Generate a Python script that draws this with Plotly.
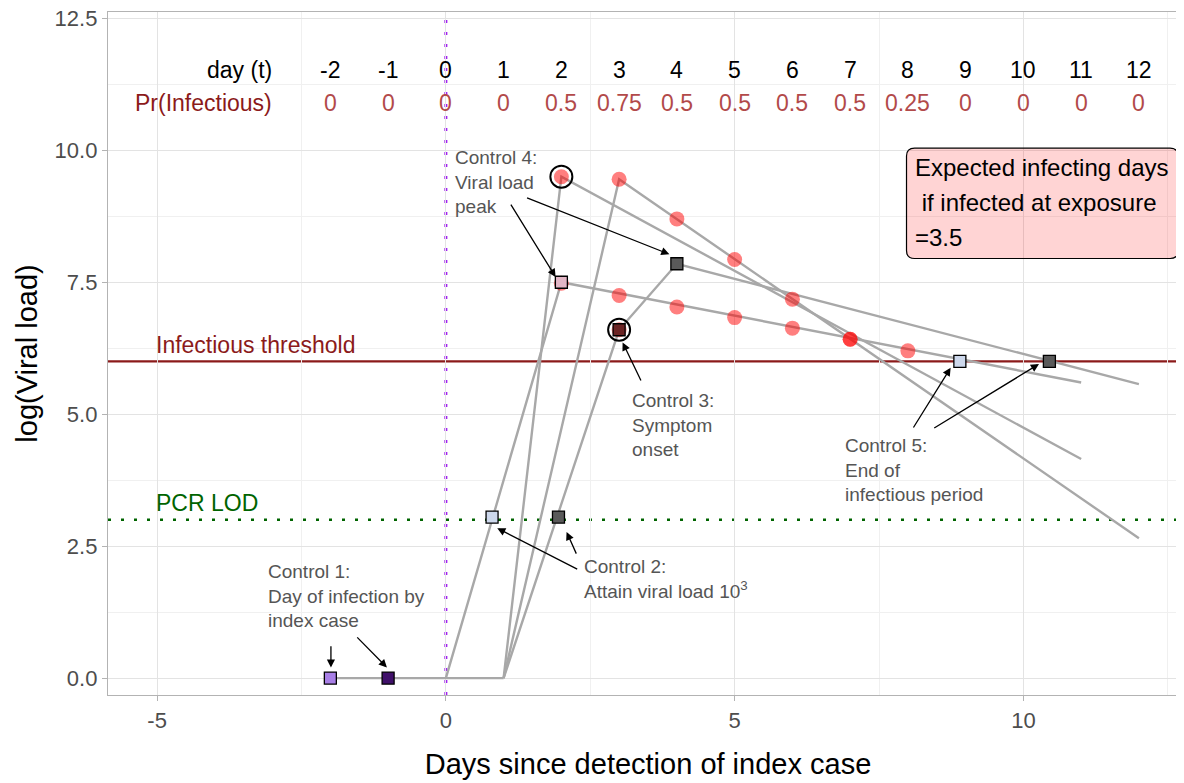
import plotly.graph_objects as go

# Header table above the trajectories
days = list(range(-2, 13))
pr_infectious = ["0", "0", "0", "0", "0.5", "0.75", "0.5", "0.5", "0.5", "0.5", "0.25", "0", "0", "0", "0"]

infectious_threshold = 6.0
pcr_lod = 3.0

# Viral load trajectories (day, log viral load)
baseline_x = [-2, 1]
baseline_y = [0, 0]
traj_a_x = [0, 2, 11]
traj_a_y = [0, 7.5, 5.6]
traj_b_x = [1, 2, 11]
traj_b_y = [0, 9.5, 4.15]
traj_c_x = [1, 3, 12]
traj_c_y = [0, 9.45, 2.65]
traj_d_x = [1, 3, 4, 12]
traj_d_y = [0, 6.6, 7.85, 5.57]

# Infectious days (red dots)
inf_x = [2, 3, 4, 5, 6, 7, 2, 3, 4, 5, 6, 7, 8, 3]
inf_y = [9.5, 9.45, 8.7, 7.93, 7.18, 6.42, 7.48, 7.25, 7.03, 6.83, 6.63, 6.42, 6.2, 6.6]

# Circled points
circ_x = [2, 3]
circ_y = [9.5, 6.6]

# Control points (squares)
ctrl_x = [-2, -1, 0.8, 1.95, 3, 2, 4, 8.9, 10.45]
ctrl_y = [0, 0, 3.05, 3.05, 6.6, 7.5, 7.85, 6.0, 6.0]
ctrl_colors = ["#a87fe6", "#40106a", "#cdd8ec", "#5a5a5a", "#6b2424",
               "#e3b6c6", "#5a5a5a", "#cdd8ec", "#5a5a5a"]

box_lines = ["Expected infecting days", "\u00a0if infected at exposure", "=3.5"]

x_ticks = [-5, 0, 5, 10]
x_ticktext = ["-5", "0", "5", "10"]
y_ticks = [0, 2.5, 5, 7.5, 10, 12.5]
y_ticktext = ["0.0", "2.5", "5.0", "7.5", "10.0", "12.5"]

FONT = "Liberation Sans"
LABEL_GREY = "#555555"

fig = go.Figure()

line_style = dict(color="#a8a8a8", width=2.4)
for xs, ys in [(baseline_x, baseline_y), (traj_a_x, traj_a_y), (traj_b_x, traj_b_y),
               (traj_c_x, traj_c_y), (traj_d_x, traj_d_y)]:
    fig.add_trace(go.Scatter(x=xs, y=ys, mode="lines", line=line_style,
                             hoverinfo="skip", showlegend=False))

fig.add_trace(go.Scatter(
    x=inf_x, y=inf_y, mode="markers",
    marker=dict(size=15, color="rgba(255,0,0,0.5)", line=dict(width=0)),
    showlegend=False,
))
fig.add_trace(go.Scatter(
    x=circ_x, y=circ_y, mode="markers",
    marker=dict(size=22, symbol="circle-open", color="black", line=dict(width=2)),
    showlegend=False,
))
fig.add_trace(go.Scatter(
    x=ctrl_x, y=ctrl_y, mode="markers",
    marker=dict(size=12, symbol="square", color=ctrl_colors,
                line=dict(color="black", width=1.3)),
    showlegend=False,
))

# reference lines
fig.add_shape(type="line", xref="paper", yref="y", x0=0, x1=1,
              y0=infectious_threshold, y1=infectious_threshold,
              line=dict(color="#8b1a1a", width=2.2), layer="below")
fig.add_shape(type="line", xref="paper", yref="y", x0=0, x1=1,
              y0=pcr_lod, y1=pcr_lod,
              line=dict(color="#006400", width=2.5, dash="3px,10px"), layer="below")
fig.add_shape(type="line", xref="x", yref="paper", x0=0, x1=0, y0=0, y1=1,
              line=dict(color="#a020f0", width=3, dash="3px,9px"), layer="below")

# summary box with rounded corners
bx0, bx1, by0, by1 = 7.976, 12.68, 7.95, 10.04
rx, ry = 0.14, 0.15
box_path = (
    f"M {bx0 + rx},{by0} L {bx1 - rx},{by0} Q {bx1},{by0} {bx1},{by0 + ry} "
    f"L {bx1},{by1 - ry} Q {bx1},{by1} {bx1 - rx},{by1} "
    f"L {bx0 + rx},{by1} Q {bx0},{by1} {bx0},{by1 - ry} "
    f"L {bx0},{by0 + ry} Q {bx0},{by0} {bx0 + rx},{by0} Z"
)
fig.add_shape(type="path", path=box_path, xref="x", yref="y",
              fillcolor="rgba(255,0,0,0.17)", line=dict(color="black", width=1.2),
              layer="above")

annotations = []

# header rows
annotations.append(dict(x=-2.97, y=11.52, text="day (t)", xanchor="right",
                        font=dict(size=23, color="black")))
annotations.append(dict(x=-2.97, y=10.89, text="Pr(Infectious)", xanchor="right",
                        font=dict(size=23, color="#8b1a1a")))
for d, p in zip(days, pr_infectious):
    annotations.append(dict(x=d, y=11.52, text=str(d), font=dict(size=23, color="black")))
    annotations.append(dict(x=d, y=10.89, text=p, font=dict(size=23, color="#b24a4a")))

annotations.append(dict(x=-5.05, y=6.31, text="Infectious threshold", xanchor="left",
                        font=dict(size=23, color="#8b1a1a")))
annotations.append(dict(x=-5.05, y=3.31, text="PCR LOD", xanchor="left",
                        font=dict(size=23, color="#006400")))

# box text
for i, line in enumerate(box_lines):
    annotations.append(dict(x=8.09, y=9.68 - 0.665 * i, text=line, xanchor="left",
                            font=dict(size=24, color="black")))

# control labels
ctrl_labels = [
    (0.12, 10.1, "Control 4:<br>Viral load<br>peak"),
    (3.18, 5.5, "Control 3:<br>Symptom<br>onset"),
    (2.35, 2.35, "Control 2:<br>Attain viral load 10<sup>3</sup>"),
    (-3.12, 2.25, "Control 1:<br>Day of infection by<br>index case"),
    (6.88, 4.65, "Control 5:<br>End of<br>infectious period"),
]
for lx, ly, txt in ctrl_labels:
    annotations.append(dict(x=lx, y=ly, text=txt, xanchor="left", yanchor="top",
                            align="left", font=dict(size=19, color=LABEL_GREY)))

# arrows: (tail_x, tail_y, head_x, head_y)
arrows = [
    (1.11, 9.0, 1.9, 7.6),
    (1.38, 9.11, 3.87, 8.03),
    (3.39, 5.61, 3.06, 6.36),
    (2.3, 2.05, 0.89, 2.84),
    (2.27, 2.33, 2.09, 2.77),
    (-1.99, 0.63, -1.99, 0.2),
    (-1.56, 0.8, -1.02, 0.2),
    (8.08, 4.72, 8.74, 5.88),
    (8.43, 4.72, 10.27, 5.95),
]
for tx, ty, hx, hy in arrows:
    annotations.append(dict(x=hx, y=hy, ax=tx, ay=ty, axref="x", ayref="y", text="",
                            showarrow=True, arrowhead=2, arrowsize=1.25, arrowwidth=1.3,
                            arrowcolor="black", standoff=0))

for a in annotations:
    a.setdefault("xref", "x")
    a.setdefault("yref", "y")
    a.setdefault("showarrow", False)

# page body has an 8px margin, so the plot area is shifted to match the reference
fig.update_layout(
    width=1184, height=783,
    margin=dict(l=100, r=4, t=4, b=96),
    paper_bgcolor="white", plot_bgcolor="white",
    font=dict(family=FONT),
    annotations=annotations,
    showlegend=False,
)
fig.update_xaxes(
    range=[-5.85, 12.85], tickvals=x_ticks, ticktext=x_ticktext, automargin=False,
    showgrid=True, gridcolor="#e3e3e3", gridwidth=1,
    minor=dict(dtick=2.5, tick0=0, showgrid=True, gridcolor="#f0f0f0", gridwidth=1),
    showline=True, linecolor="#b3b3b3", linewidth=1.3, mirror=True,
    ticks="outside", ticklen=5, tickcolor="#b3b3b3",
    tickfont=dict(size=22, color="#4d4d4d"), zeroline=False,
    ticklabeloverflow="allow",
    title=dict(text="Days since detection of index case", font=dict(size=29, color="black"),
               standoff=22),
)
fig.update_yaxes(
    range=[-0.32, 12.62], tickvals=y_ticks, ticktext=y_ticktext, automargin=False,
    showgrid=True, gridcolor="#e3e3e3", gridwidth=1,
    minor=dict(dtick=1.25, tick0=0, showgrid=True, gridcolor="#f0f0f0", gridwidth=1),
    showline=True, linecolor="#b3b3b3", linewidth=1.3, mirror=False,
    ticks="outside", ticklen=5, tickcolor="#b3b3b3",
    tickfont=dict(size=22, color="#4d4d4d"), zeroline=False,
    ticklabeloverflow="allow",
    title=dict(text="log(Viral load)", font=dict(size=29, color="black"), standoff=8),
)

fig.write_html("out.html")
